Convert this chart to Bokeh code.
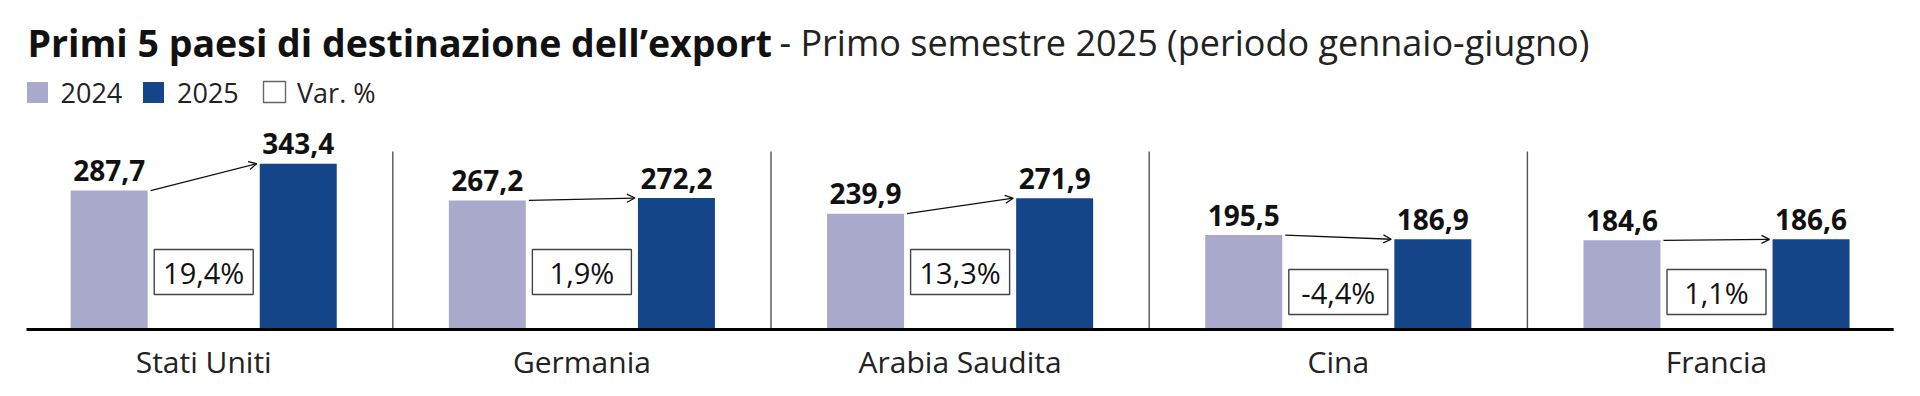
from bokeh.plotting import figure
from bokeh.models import Range1d, ColumnDataSource, Arrow, OpenHead
from bokeh.core.properties import value
from bokeh.embed import file_html
from bokeh.resources import INLINE

# ---------------- data ----------------
countries = ["Stati Uniti", "Germania", "Arabia Saudita", "Cina", "Francia"]
exp_2024 = [287.7, 267.2, 239.9, 195.5, 184.6]
exp_2025 = [343.4, 272.2, 271.9, 186.9, 186.6]
var_pct = [19.4, 1.9, 13.3, -4.4, 1.1]
series_labels = ["2024", "2025", "Var. %"]

title_bold = "Primi 5 paesi di destinazione dell\u2019export"
title_light = "- Primo semestre 2025 (periodo gennaio-giugno)"

# ---------------- style / layout ----------------
FONT = "Open Sans"
C24 = "#A9AACB"
C25 = "#154589"
W, H = 1920, 396
CAT0_PX = 203.2        # screen x of first category centre
PX_PER_CAT = 378.2
BASE_PX = 329          # screen y of zero line
PX_PER_UNIT = 0.483
X_START = -CAT0_PX / PX_PER_CAT
X_END = (W - CAT0_PX) / PX_PER_CAT
Y_START = -(H - BASE_PX) / PX_PER_UNIT
Y_END = BASE_PX / PX_PER_UNIT
BAR_W = 0.2036
DODGE = 0.25
ARROW_GAP = 0.008
BASE_PAD = 0.0315
SEP_TOP_PX = 178
BOX_W = 0.2618
BOX_H_PX = 45
BOX_BOTTOM_PX = [35, 35, 35, 15, 15]


def fx(px):
    return (px - CAT0_PX) / PX_PER_CAT


def fy(py):
    return (BASE_PX - py) / PX_PER_UNIT


def fmt(v):
    return f"{v:.1f}".replace(".", ",")


idx = list(range(len(countries)))
x24 = [i - DODGE for i in idx]
x25 = [i + DODGE for i in idx]

p = figure(width=W, height=H, x_range=Range1d(X_START, X_END), y_range=Range1d(Y_START, Y_END),
           output_backend="svg", toolbar_location=None, x_axis_location=None, y_axis_location=None,
           min_border=0, outline_line_color=None,
           background_fill_color="white", border_fill_color="white")
p.grid.visible = False

# separators between countries
p.segment(x0=[i + 0.5 for i in idx[:-1]], y0=0, x1=[i + 0.5 for i in idx[:-1]],
          y1=SEP_TOP_PX / PX_PER_UNIT, line_color="#555555", line_width=1.4)

# bars
p.vbar(x=x24, top=exp_2024, width=BAR_W, fill_color=C24, line_color=None)
p.vbar(x=x25, top=exp_2025, width=BAR_W, fill_color=C25, line_color=None)

# value labels
p.text(x=x24 + x25, y=exp_2024 + exp_2025, text=[fmt(v) for v in exp_2024 + exp_2025],
       text_font=value(FONT), text_font_style="bold", text_font_size="28px",
       text_align="center", text_baseline="middle", y_offset=-20, text_color="#111111")

# arrows 2024 -> 2025
arrow_src = ColumnDataSource(dict(
    xs=[x + BAR_W / 2 + ARROW_GAP for x in x24], ys=exp_2024,
    xe=[x - BAR_W / 2 - ARROW_GAP for x in x25], ye=exp_2025))
p.add_layout(Arrow(x_start="xs", y_start="ys", x_end="xe", y_end="ye", source=arrow_src,
                   line_color="#111111", line_width=1.3,
                   end=OpenHead(size=8, line_color="#111111", line_width=1.3)))

# variation boxes
box_y = [(b + BOX_H_PX / 2) / PX_PER_UNIT for b in BOX_BOTTOM_PX]
p.rect(x=idx, y=box_y, width=BOX_W, height=BOX_H_PX, height_units="screen",
       fill_color="white", line_color="#444444", line_width=1.4)
p.text(x=idx, y=box_y, text=[fmt(v) + "%" for v in var_pct],
       text_font=value(FONT), text_font_size="29px", text_align="center",
       text_baseline="middle", text_color="#111111")

# zero line
p.segment(x0=[-0.5 + BASE_PAD], y0=[0], x1=[len(countries) - 0.5 - BASE_PAD], y1=[0],
          line_color="black", line_width=3)

# country labels
p.text(x=idx, y=[0] * len(idx), text=countries, text_font=value(FONT), text_font_size="30px",
       text_align="center", text_baseline="middle", y_offset=32, text_color="#222222")

# title
p.text(x=[fx(27)], y=[fy(42)], text=[title_bold], text_font=value(FONT), text_font_style="bold",
       text_font_size="37.5px", text_baseline="middle", text_align="left", text_color="#111111")
p.text(x=[fx(779)], y=[fy(42)], text=[title_light], text_font=value(FONT),
       text_font_size="36px", text_baseline="middle", text_align="left", text_color="#222222")

# legend (drawn by hand)
leg_sq_x = [fx(37), fx(153)]
p.rect(x=leg_sq_x, y=[fy(92)] * 2, width=21, height=21, width_units="screen",
       height_units="screen", fill_color=[C24, C25], line_color=None)
p.rect(x=[fx(274)], y=[fy(91.5)], width=22, height=21, width_units="screen",
       height_units="screen", fill_color="white", line_color="#666666", line_width=1.4)
p.text(x=[fx(60), fx(176.5), fx(296.5)], y=[fy(92)] * 3, text=series_labels,
       text_font=value(FONT), text_font_size="27px", text_align="left",
       text_baseline="middle", text_color="#222222")

open("out.html", "w").write(file_html(p, INLINE))
